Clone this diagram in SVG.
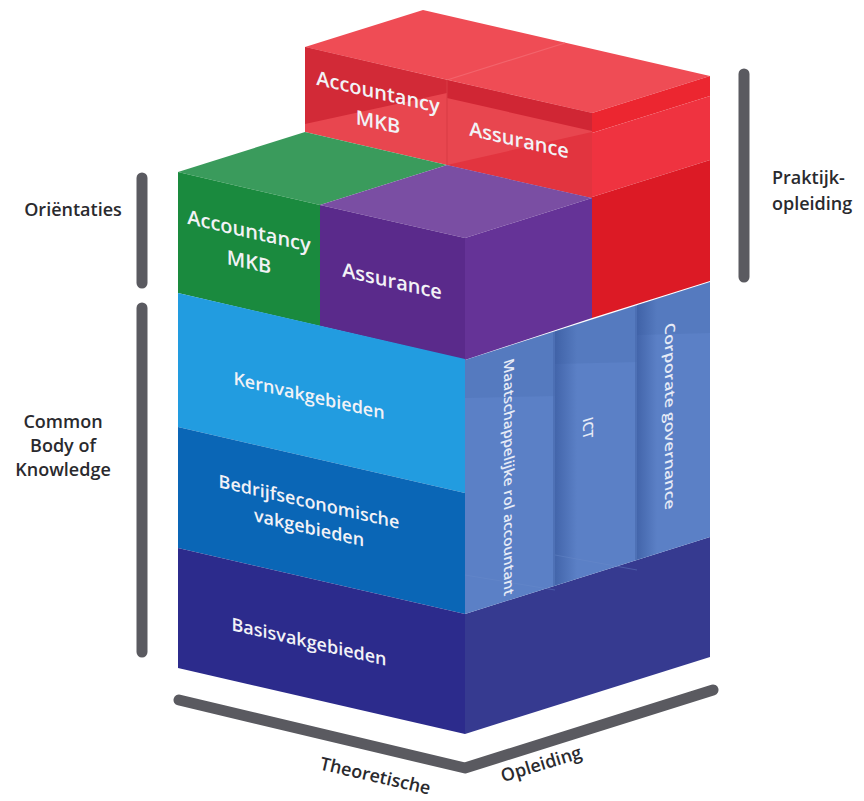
<svg xmlns="http://www.w3.org/2000/svg" width="864" height="801" viewBox="0 0 864 801">
<style>
.lbl{font-family:"Open Sans","Liberation Sans",sans-serif;font-weight:600;fill:#f2f2f6;text-anchor:middle}
.side{font-family:"Open Sans","Liberation Sans",sans-serif;font-weight:600;fill:#2a2a2e;font-size:18px}
.col{font-family:"Open Sans","Liberation Sans",sans-serif;font-weight:600;fill:#e6ebf6;text-anchor:middle;font-size:14px}
.bar{stroke:#5a5a60;stroke-width:11;stroke-linecap:round;fill:none}
</style>
<defs>
<linearGradient id="sh" x1="0" y1="0" x2="1" y2="0">
<stop offset="0" stop-color="#2f4f94" stop-opacity="0.55"/>
<stop offset="1" stop-color="#2f4f94" stop-opacity="0"/>
</linearGradient>
</defs>
<rect width="864" height="801" fill="#ffffff"/>

<!-- Praktijkopleiding (red) block -->
<g id="praktijk">
<polygon points="305,47 592,113 710,76 423,10" fill="#ef4c55"/>
<line x1="447" y1="80" x2="565" y2="43" stroke="#f3646c" stroke-width="1.2"/>
<polygon points="305,47 592,113 592,198 447,165 305,132" fill="#e8464f"/>
<polygon points="305,47 447,80 447,93 305,124" fill="#d22a37"/>
<polygon points="447,80 592,113 592,131 447,98" fill="#d02634"/>
<polygon points="447,165 592,132 592,198" fill="#e2343f"/>
<line x1="447" y1="80" x2="447" y2="165" stroke="#d83a45" stroke-width="1"/>
<polygon points="592,113 710,76 710,96 592,133" fill="#ec2630"/>
<polygon points="592,133 710,96 710,160 592,197" fill="#ef3340"/>
<polygon points="592,197 710,160 710,281 592,318" fill="#dc1a25"/>
<g transform="matrix(1 0.23 0 1 378 92)"><text class="lbl" font-size="20" y="7">Accountancy</text><text class="lbl" font-size="20" y="37">MKB</text></g>
<g transform="matrix(1 0.23 0 1 519 140)"><text class="lbl" font-size="20" y="7">Assurance</text></g>
</g>

<!-- Orientaties: green block -->
<g id="orient-mkb">
<polygon points="178,172 320,205 447,165 305,132" fill="#3a9b5c"/>
<polygon points="178,172 320,205 320,326 178,293" fill="#1a8a3e"/>
<g transform="matrix(1 0.23 0 1 249 231)"><text class="lbl" font-size="20" y="7">Accountancy</text><text class="lbl" font-size="20" y="38">MKB</text></g>
</g>

<!-- Orientaties: purple block -->
<g id="orient-assurance">
<polygon points="320,205 465,238 592,198 447,165" fill="#7a4ea3"/>
<polygon points="320,205 465,238 465,360 320,326" fill="#5a2a8b"/>
<polygon points="465,238 592,198 592,318 465,360" fill="#653397"/>
<g transform="matrix(1 0.23 0 1 392 281)"><text class="lbl" font-size="20" y="7">Assurance</text></g>
</g>

<!-- Common Body of Knowledge layers -->
<g id="kern">
<polygon points="178,293 465,359 465,493 178,427" fill="#229ce0"/>
<g transform="matrix(1 0.23 0 1 309 396)"><text class="lbl" font-size="18" y="6">Kernvakgebieden</text></g>
</g>
<g id="bedrijf">
<polygon points="178,427 465,493 465,614 178,548" fill="#0a66b6"/>
<g transform="matrix(1 0.23 0 1 309 502)"><text class="lbl" font-size="18" y="6">Bedrijfseconomische</text><text class="lbl" font-size="18" y="32">vakgebieden</text></g>
</g>
<g id="basis">
<polygon points="178,548 465,614 465,734 178,668" fill="#2c2b8c"/>
<polygon points="465,614 710,537 710,657 465,734" fill="#363a90"/>
<g transform="matrix(1 0.23 0 1 309 642)"><text class="lbl" font-size="18" y="6">Basisvakgebieden</text></g>
</g>

<!-- Right face columns -->
<g id="columns">
<polygon points="465,360 710,282 710,537 465,614" fill="#5b80c6"/>
<polygon points="465,360 555,331 555,396 465,398" fill="#3f5f9f" opacity="0.18"/>
<polygon points="555,331 637,305 637,362 555,364" fill="#3f5f9f" opacity="0.18"/>
<polygon points="637,305 710,282 710,333 637,335" fill="#3f5f9f" opacity="0.18"/>
<polygon points="555,331.4 577,324.4 577,578.8 555,585.6" fill="url(#sh)"/>
<polygon points="637,305.3 657,298.9 657,553.5 637,559.8" fill="url(#sh)"/>
<line x1="554" y1="332" x2="554" y2="586" stroke="#4a6cb0" stroke-width="1.5"/>
<line x1="636" y1="306" x2="636" y2="560" stroke="#4a6cb0" stroke-width="1.5"/>
<line x1="465" y1="575" x2="555" y2="590" stroke="#6b8ccc" stroke-width="1" opacity="0.4"/>
<line x1="555" y1="555" x2="637" y2="570" stroke="#6b8ccc" stroke-width="1" opacity="0.4"/>
<g id="maatschappelijk" transform="matrix(0 1 -1 0.315 509 477)"><text class="col" y="5" textLength="236" lengthAdjust="spacingAndGlyphs">Maatschappelijke rol accountant</text></g>
<g id="ict" transform="matrix(0 1 -1 0.315 588 428)"><text class="col" y="5" font-size="16">ICT</text></g>
<g id="corporate" transform="matrix(0 1 -1 0.315 670 416)"><text class="col" y="5" textLength="186" lengthAdjust="spacingAndGlyphs">Corporate governance</text></g>
</g>

<!-- Brackets -->
<g id="connectors">
<line class="bar" x1="142" y1="178" x2="142" y2="283"/>
<line class="bar" x1="142" y1="308" x2="142" y2="652"/>
<line class="bar" x1="744" y1="74" x2="744" y2="277"/>
<polyline class="bar" stroke-width="12" stroke-linejoin="round" points="179,700 465,768 713,690"/>
</g>

<!-- Side labels -->
<g id="label-orientaties"><text class="side" x="73" y="216" text-anchor="middle">Oriëntaties</text></g>
<g id="label-cbk">
<text class="side" x="63" y="428" text-anchor="middle">Common</text>
<text class="side" x="63" y="452" text-anchor="middle">Body of</text>
<text class="side" x="63" y="476" text-anchor="middle">Knowledge</text>
</g>
<g id="label-praktijk">
<text class="side" x="772" y="184">Praktijk-</text>
<text class="side" x="772" y="210">opleiding</text>
</g>
<g id="label-theoretische"><text class="side" transform="translate(374,782) rotate(13)" text-anchor="middle">Theoretische</text></g>
<g id="label-opleiding"><text class="side" transform="translate(543,770) rotate(-17)" text-anchor="middle">Opleiding</text></g>
</svg>
